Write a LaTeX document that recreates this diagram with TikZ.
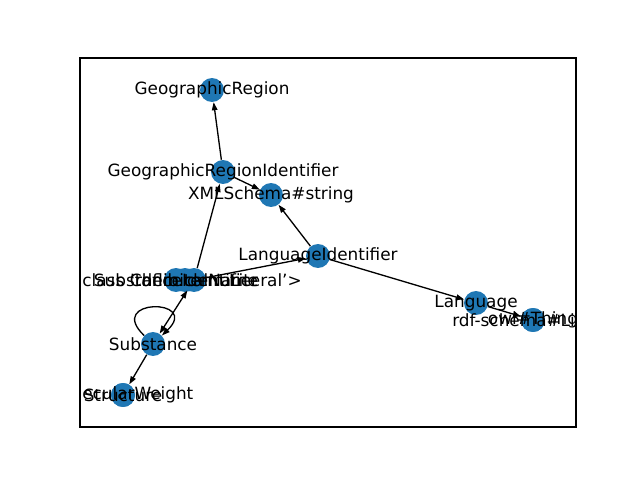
\documentclass[tikz,border=0pt]{standalone}
\usepackage{fontspec}
\setmainfont{DejaVu Sans}
\usetikzlibrary{arrows.meta}
\definecolor{NodeBlue}{HTML}{1F77B4}
\tikzset{
  vertex/.style={circle, fill=NodeBlue, minimum size=0.48cm, inner sep=0pt},
  lbl/.style={inner sep=0pt, font=\fontsize{9.6}{11}\selectfont},
  edge/.style={-{Triangle[length=1.6mm,width=1.1mm]}, line width=0.75pt, draw=black},
  biedge/.style={{Triangle[length=1.6mm,width=1.1mm]}-{Triangle[length=1.6mm,width=1.1mm]}, line width=0.75pt, draw=black}
}
\begin{document}
\begin{tikzpicture}[x=0.02cm,y=-0.02cm]
    \useasboundingbox (0,0) rectangle (640,480);
    \draw[line width=0.6pt] (80,58) rectangle (576,427);
    % nodes
    \node[vertex] (georeg) at (212,90) {};
    \node[vertex] (georegid) at (223,172) {};
    \node[vertex] (xsdstr) at (271,195) {};
    \node[vertex] (langid) at (318,256) {};
    \node[vertex] (subid) at (176,280) {};
    \node[vertex] (literal) at (185,280) {};
    \node[vertex] (chemname) at (194,280) {};
    \node[vertex] (lang) at (476,303) {};
    \node[vertex] (rdfslit) at (533,320) {};
    \node[vertex] (thing) at (533,320) {};
    \node[vertex] (subst) at (153,344) {};
    \node[vertex] (struct) at (123,395) {};
    \node[vertex] (molwt) at (123,395) {};
    % edges
    \draw[edge] (georegid) -- (georeg);
    \draw[edge] (georegid) -- (xsdstr);
    \draw[edge] (langid) -- (xsdstr);
    \draw[edge] (chemname) -- (georegid);
    \draw[edge] (chemname) -- (langid);
    \draw[edge] (langid) -- (lang);
    \draw[edge] (lang) -- (rdfslit);
    \draw[biedge] (subst) -- (chemname);
    \draw[edge] (subst) -- (struct);
    \draw[edge] (subst) .. controls +(-48,-46) and +(48,-46) .. (subst);
    % labels
    \begin{scope}
      \clip (80,58) rectangle (576,427);
      \node[lbl] at (georeg) {GeographicRegion};
      \node[lbl] at (georegid) {GeographicRegionIdentifier};
      \node[lbl] at (xsdstr) {XMLSchema\#string};
      \node[lbl] at (langid) {LanguageIdentifier};
      \node[lbl] at (subid) {SubstanceIdentifier};
      \node[lbl] at (literal) {<class 'rdflib.term.Literal'>};
      \node[lbl] at (chemname) {ChemicalName};
      \node[lbl] at (lang) {Language};
      \node[lbl] at (rdfslit) {rdf-schema\#Literal};
      \node[lbl] at (thing) {owl\#Thing};
      \node[lbl] at (subst) {Substance};
      \node[lbl] at (molwt) {MolecularWeight};
      \node[lbl] at (struct) {Structure};
    \end{scope}
\end{tikzpicture}
\end{document}
